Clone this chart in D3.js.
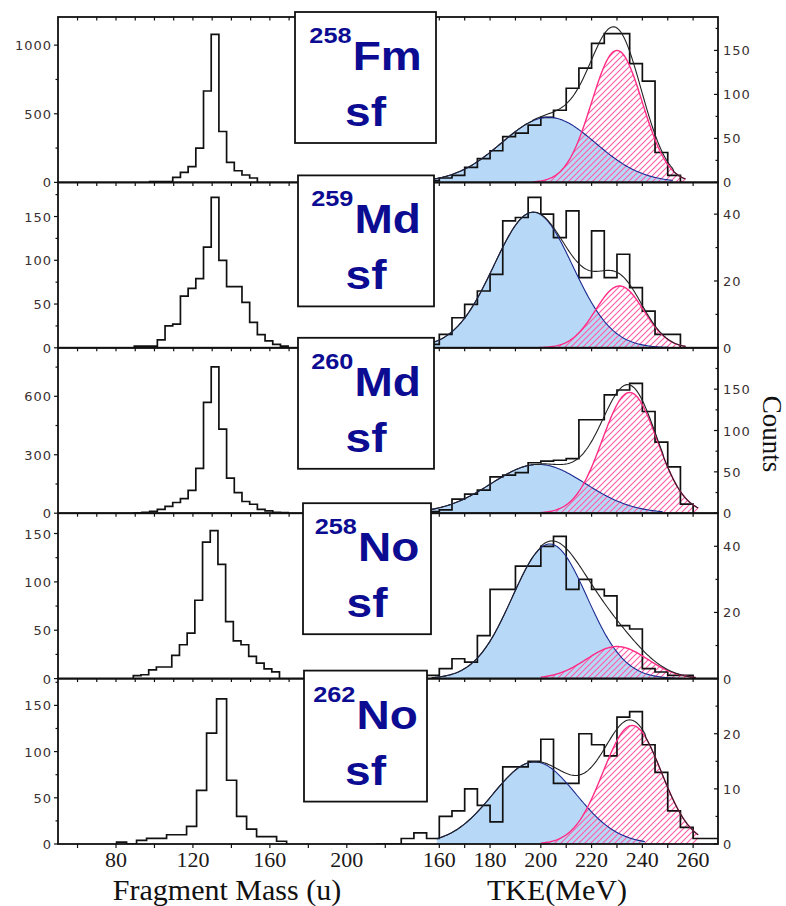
<!DOCTYPE html>
<html lang="en">
<head>
<meta charset="utf-8" />
<title>Fragment mass and TKE distributions</title>
<script src="https://d3js.org/d3.v7.min.js"></script>
<style>
  body { margin: 0; background: #fff; }
  svg { display: block; }
  .frame { fill: none; stroke: #111; stroke-width: 1.8px; }
  .tk { stroke: #111; stroke-width: 1.2px; }
  .ylab { font-family: "DejaVu Sans", sans-serif; font-size: 13px; letter-spacing: 1px; fill: #3a3030; }
  .xlab { font-family: "Liberation Serif", serif; font-size: 22px; fill: #201818; }
  .title { font-family: "Liberation Serif", serif; font-size: 30px; fill: #111; }
  .hist { fill: none; stroke: #111; stroke-width: 1.7px; }
  .nuc { font-family: "Liberation Sans", Arial, sans-serif; font-weight: bold; fill: #0c0c92; }
</style>
</head>
<body>
<svg width="786" height="906"></svg>
<script>
// nuclei shown in the five rows
const massNumbers = ["258", "259", "260", "258", "262"];
const elements = ["Fm", "Md", "Md", "No", "No"];

// y ranges: left = mass counts, right = TKE counts
const leftMax = [1205, 189, 849, 171, 179];
const rightMax = [188, 49.5, 200, 50, 30];
const leftTicks = [[0, 500, 1000], [0, 50, 100, 150], [0, 300, 600], [0, 50, 100, 150], [0, 50, 100, 150]];
const rightTicks = [[0, 50, 100, 150], [0, 20, 40], [0, 50, 100, 150], [0, 20, 40], [0, 10, 20]];

// fragment mass histograms (first bin edge, bin width in u, counts)
const massStart = [97.5, 89.5, 89.5, 89, 80.3];
const massBin = [4, 4, 4, 4, 5.2];
const massCounts = [
  [5, 6, 6, 37, 73, 115, 249, 666, 1078, 371, 146, 85, 54, 32],
  [2, 2, 2, 9, 25, 27, 59, 68, 79, 115, 172, 100, 70, 70, 52, 29, 15, 8, 4, 2],
  [2, 5, 9, 20, 35, 55, 75, 117, 230, 569, 751, 432, 180, 106, 60, 46, 20, 12, 5, 3],
  [3, 4, 9, 12, 12, 24, 35, 47, 81, 141, 153, 118, 59, 39, 35, 23, 16, 10, 7],
  [2, 0, 4, 6, 6, 10, 10, 19, 58, 120, 157, 69, 30, 16, 8, 8, 3]
];

// TKE histograms, 5 MeV bins
const tkeStart = [155, 155, 155, 155, 135];
const tkeBin = 5;
const tkeCounts = [
  [2, 5, 8, 17, 27, 36, 52, 56, 65, 74, 82, 107, 130, 158, 169, 169, 135, 115, 34, 8],
  [1, 4, 9, 13, 17, 22, 38, 39, 45, 40, 33, 41, 21, 35, 21, 28, 18, 11, 4, 4],
  [2, 4, 17, 23, 28, 44, 46, 49, 61, 63, 64, 66, 113, 113, 143, 149, 157, 123, 86, 56, 11],
  [1, 3, 6, 5, 13, 27, 27, 34, 34, 40, 43, 27, 30, 27, 25, 16, 15, 3, 2, 1, 1],
  [0, 0, 1, 2, 1, 5, 6, 10, 7, 4, 14, 14, 15, 19, 11, 11, 20, 18, 16, 23, 24, 18, 13, 6, 3, 1, 1]
];

// gaussian fit components: [height, centre MeV, sigma MeV] and drawn range
const lowFit = [[74, 203, 18.5], [40.6, 197, 15.5], [59, 199, 18.6], [40.7, 203.5, 14.7], [14.9, 197.5, 16.4]];
const highFit = [[150, 230, 10], [18.5, 231, 9.5], [146, 235, 10.8], [9.7, 230, 12], [21.5, 236, 11.5]];
const lowRange = [[157, 252], [157, 252], [157, 248], [157, 256], [159, 241]];
const highRange = [[197, 257], [198, 257], [200, 262], [200, 261], [200, 262]];

const massLabels = [80, 120, 160, 200];
const tkeLabels = [160, 180, 200, 220, 240, 260];

const svg = d3.select("svg");
const defs = svg.append("defs");

const plotL = 58, plotR = 718, plotTop = 17, panelH = 165.4;
const xMass = d3.scaleLinear().domain([50, 200]).range([58.3, 346.8]);
const xTke = d3.scaleLinear().domain([160, 270]).range([439.3, 718.5]);

// pink hatch
defs.append("pattern")
  .attr("id", "hatch")
  .attr("patternUnits", "userSpaceOnUse")
  .attr("width", 6).attr("height", 6)
  .append("path")
  .attr("d", "M-1,1 l2,-2 M0,6 l6,-6 M5,7 l2,-2")
  .attr("stroke", "#ff5aa5")
  .attr("stroke-width", 1.1);

const gauss = (p, e) => p[0] * Math.exp(-((e - p[1]) ** 2) / (2 * p[2] * p[2]));

function histPoints(start, width, counts) {
  const pts = [[start, 0]];
  counts.forEach((c, k) => pts.push([start + k * width, c]));
  pts.push([start + counts.length * width, 0]);
  return pts;
}

massCounts.forEach((counts, i) => {
  const top = plotTop + i * panelH, bottom = top + panelH;
  const yL = d3.scaleLinear().domain([0, leftMax[i]]).range([bottom, top]);
  const yR = d3.scaleLinear().domain([0, rightMax[i]]).range([bottom, top]);

  defs.append("clipPath").attr("id", "clip" + i)
    .append("rect")
    .attr("x", plotL).attr("y", top)
    .attr("width", plotR - plotL).attr("height", panelH);

  const g = svg.append("g");
  const inner = g.append("g").attr("clip-path", `url(#clip${i})`);

  // mass histogram
  const massLine = d3.line().x(d => xMass(d[0])).y(d => yL(d[1])).curve(d3.curveStepAfter);
  inner.append("path").attr("class", "hist").attr("d", massLine(histPoints(massStart[i], massBin[i], counts)));

  // fits
  const lowPts = d3.range(lowRange[i][0], lowRange[i][1] + 0.01, 0.5).map(e => [e, gauss(lowFit[i], e)]);
  const highPts = d3.range(highRange[i][0], highRange[i][1] + 0.01, 0.5).map(e => [e, gauss(highFit[i], e)]);
  const sumPts = d3.range(lowRange[i][0], highRange[i][1] + 0.01, 0.5).map(e => {
    let v = 0;
    if (e <= lowRange[i][1]) v += gauss(lowFit[i], e);
    if (e >= highRange[i][0]) v += gauss(highFit[i], e);
    return [e, v];
  });
  const area = d3.area().x(d => xTke(d[0])).y0(yR(0)).y1(d => yR(d[1]));
  const line = d3.line().x(d => xTke(d[0])).y(d => yR(d[1]));

  inner.append("path").attr("d", area(lowPts)).attr("fill", "#b7d9f7");
  inner.append("path").attr("d", area(highPts)).attr("fill", "url(#hatch)");

  const tkeLine = d3.line().x(d => xTke(d[0])).y(d => yR(d[1])).curve(d3.curveStepAfter);
  inner.append("path").attr("class", "hist").attr("d", tkeLine(histPoints(tkeStart[i], tkeBin, tkeCounts[i])));

  inner.append("path").attr("d", line(lowPts)).attr("fill", "none").attr("stroke", "#1b2a90").attr("stroke-width", 1.1);
  inner.append("path").attr("d", line(highPts)).attr("fill", "none").attr("stroke", "#ff2d86").attr("stroke-width", 1.4);
  inner.append("path").attr("d", line(sumPts)).attr("fill", "none").attr("stroke", "#222").attr("stroke-width", 1.1);

  // frame
  g.append("rect").attr("class", "frame")
    .attr("x", plotL).attr("y", top)
    .attr("width", plotR - plotL).attr("height", panelH);

  // left axis
  const lStep = leftTicks[i][1] - leftTicks[i][0];
  const lMinor = d3.range(lStep / 2, leftMax[i], lStep);
  leftTicks[i].forEach(v => {
    g.append("line").attr("class", "tk")
      .attr("x1", plotL - 4).attr("x2", plotL).attr("y1", yL(v)).attr("y2", yL(v));
    g.append("text").attr("class", "ylab")
      .attr("x", plotL - 6).attr("y", yL(v) + 5)
      .attr("text-anchor", "end").text(v);
  });
  lMinor.forEach(v => {
    g.append("line").attr("class", "tk")
      .attr("x1", plotL - 2.5).attr("x2", plotL).attr("y1", yL(v)).attr("y2", yL(v));
  });

  // right axis
  const rStep = rightTicks[i][1] - rightTicks[i][0];
  const rMinor = d3.range(rStep / 2, rightMax[i], rStep);
  rightTicks[i].forEach(v => {
    g.append("line").attr("class", "tk")
      .attr("x1", plotR - 4).attr("x2", plotR).attr("y1", yR(v)).attr("y2", yR(v));
    g.append("text").attr("class", "ylab")
      .attr("x", plotR + 5).attr("y", yR(v) + 5)
      .text(v);
  });
  rMinor.forEach(v => {
    g.append("line").attr("class", "tk")
      .attr("x1", plotR - 2.5).attr("x2", plotR).attr("y1", yR(v)).attr("y2", yR(v));
  });

  // top ticks
  d3.range(60, 171, 10).forEach(v => {
    g.append("line").attr("class", "tk")
      .attr("x1", xMass(v)).attr("x2", xMass(v)).attr("y1", top).attr("y2", top + 3.5);
  });
  d3.range(160, 261, 10).forEach(v => {
    g.append("line").attr("class", "tk")
      .attr("x1", xTke(v)).attr("x2", xTke(v)).attr("y1", top).attr("y2", top + 3.5);
  });

  // bottom axis only on last row
  if (i === massCounts.length - 1) {
    d3.range(60, 221, 20).forEach(v => {
      g.append("line").attr("class", "tk")
        .attr("x1", xMass(v)).attr("x2", xMass(v)).attr("y1", bottom).attr("y2", bottom + 4);
    });
    d3.range(160, 261, 10).forEach(v => {
      g.append("line").attr("class", "tk")
        .attr("x1", xTke(v)).attr("x2", xTke(v)).attr("y1", bottom).attr("y2", bottom + 4);
    });
    massLabels.forEach(v => {
      g.append("text").attr("class", "xlab")
        .attr("x", xMass(v)).attr("y", bottom + 23)
        .attr("text-anchor", "middle").text(v);
    });
    tkeLabels.forEach(v => {
      g.append("text").attr("class", "xlab")
        .attr("x", xTke(v)).attr("y", bottom + 23)
        .attr("text-anchor", "middle").text(v);
    });
  }
});

// axis titles
svg.append("text").attr("class", "title")
  .attr("x", 227).attr("y", 900).attr("text-anchor", "middle")
  .text("Fragment Mass (u)");
svg.append("text").attr("class", "title")
  .attr("x", 557).attr("y", 900).attr("text-anchor", "middle")
  .text("TKE(MeV)");
svg.append("text").attr("class", "title")
  .style("font-size", "27px")
  .attr("transform", "translate(763,434) rotate(90)")
  .attr("text-anchor", "middle")
  .text("Counts");

// label boxes (drawn last so they cover the frames)
const boxLeft = [295, 298, 298, 303, 304];
const boxRight = [436, 434, 434, 431, 427];
const boxShift = [-5, -7, -10, -10, -8];

massNumbers.forEach((mn, i) => {
  const top = plotTop + i * panelH + boxShift[i];
  const cx = (boxLeft[i] + boxRight[i]) / 2;
  const bg = svg.append("g");
  bg.append("rect")
    .attr("x", boxLeft[i]).attr("y", top)
    .attr("width", boxRight[i] - boxLeft[i]).attr("height", 131)
    .attr("fill", "#fff").attr("stroke", "#111").attr("stroke-width", 1.8);

  const l1 = bg.append("g").attr("transform", `translate(${cx},${top + 58}) scale(1.15,1)`);
  const sup = l1.append("text").attr("class", "nuc").style("font-size", "22px").attr("y", -27).text(mn);
  const sym = l1.append("text").attr("class", "nuc").style("font-size", "40px").text(elements[i]);
  const ws = sup.node().getComputedTextLength();
  const wm = sym.node().getComputedTextLength();
  const x0 = -(ws + 1 + wm) / 2;
  sup.attr("x", x0);
  sym.attr("x", x0 + ws + 1);

  bg.append("g").attr("transform", `translate(${cx},${top + 114}) scale(1.15,1)`)
    .append("text").attr("class", "nuc").style("font-size", "40px")
    .attr("text-anchor", "middle").text("sf");
});
</script>
</body>
</html>
